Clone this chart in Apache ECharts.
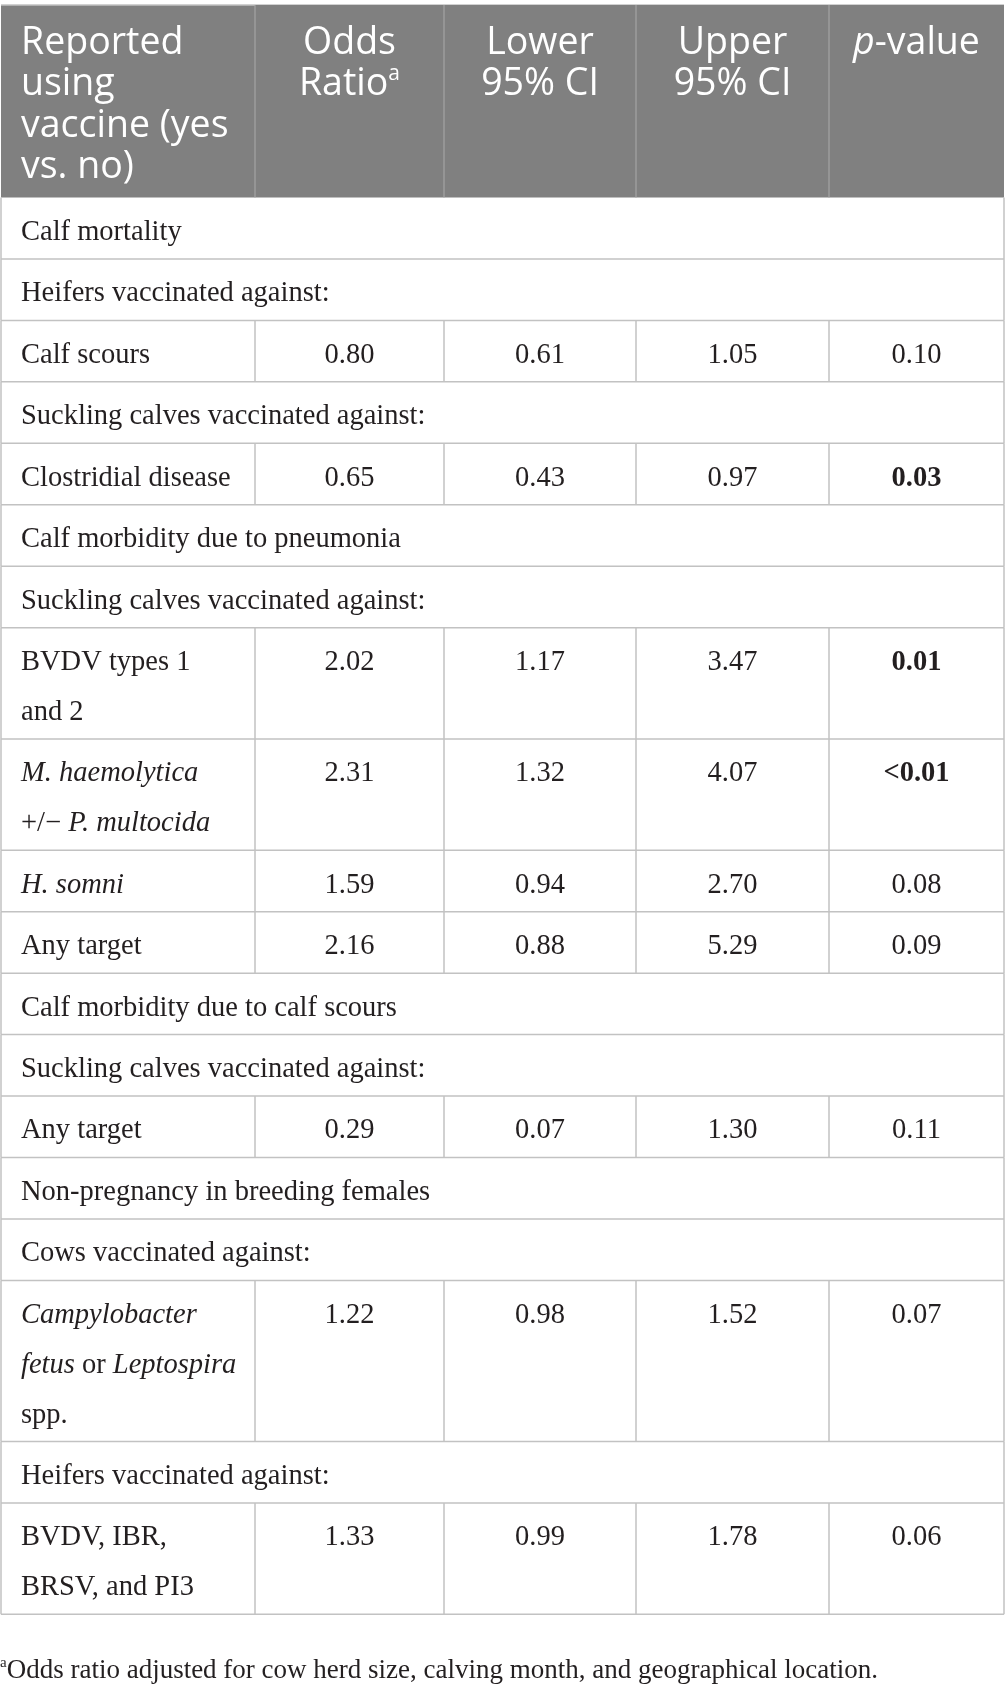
<!DOCTYPE html>
<html><head><meta charset="utf-8">
<script src="https://cdn.jsdelivr.net/npm/echarts@6/dist/echarts.min.js"></script>
<style>html,body{margin:0;padding:0;background:#fff}#c{width:1005px;height:1691px}</style>
</head><body><div id="c"></div>
<script>
// ---------------- data ----------------
const headerLabels = [
  "Reported\nusing\nvaccine (yes\nvs. no)",
  "Odds\nRatio{sup|a}",
  "Lower\n95% CI",
  "Upper\n95% CI",
  "{i|p}-value"
];
const rowLabels = [
  "Calf mortality",
  "Heifers vaccinated against:",
  "Calf scours",
  "Suckling calves vaccinated against:",
  "Clostridial disease",
  "Calf morbidity due to pneumonia",
  "Suckling calves vaccinated against:",
  "BVDV types 1\nand 2",
  "{i|M. haemolytica}\n+/\u2212 {i|P. multocida}",
  "{i|H. somni}",
  "Any target",
  "Calf morbidity due to calf scours",
  "Suckling calves vaccinated against:",
  "Any target",
  "Non-pregnancy in breeding females",
  "Cows vaccinated against:",
  "{i|Campylobacter}\n{i|fetus} or {i|Leptospira}\nspp.",
  "Heifers vaccinated against:",
  "BVDV, IBR,\nBRSV, and PI3"
];
const oddsRatio = [null,null,0.80,null,0.65,null,null,2.02,2.31,1.59,2.16,null,null,0.29,null,null,1.22,null,1.33];
const lowerCI   = [null,null,0.61,null,0.43,null,null,1.17,1.32,0.94,0.88,null,null,0.07,null,null,0.98,null,0.99];
const upperCI   = [null,null,1.05,null,0.97,null,null,3.47,4.07,2.70,5.29,null,null,1.30,null,null,1.52,null,1.78];
const pValue    = [null,null,"0.10",null,"0.03",null,null,"0.01","<0.01","0.08","0.09",null,null,"0.11",null,null,"0.07",null,"0.06"];
const significant = [false,false,false,false,true,false,false,true,true,false,false,false,false,false,false,false,false,false,false];
const footnoteMark = "a";
const footnoteText = "Odds ratio adjusted for cow herd size, calving month, and geographical location.";

// ---------------- layout ----------------
const W = 1005, H = 1691;
const colEdges = [1, 255, 444, 636, 829, 1004];
const headerTop = 5, headerBottom = 197.5;
const rowPad = 11.6, lineH = 49.85, padTop = 10;
const BORDER = '#c2c2c2', TEXT = '#231f20', HEAD_BG = '#808080', HEAD_SEP = '#a3a3a3';
const serif = '"Liberation Serif", "Times New Roman", serif';
const sans = '"Open Sans", "Noto Sans", sans-serif';
const bodySize = 28.5;
const headSize = 37.5;

const lineCounts = rowLabels.map(s => s.split('\n').length);
const rowHeight = lineCounts.map(n => rowPad + lineH * n);
const rowTop = [];
rowHeight.reduce((acc, h, i) => { rowTop[i] = acc; return acc + h; }, headerBottom);

const fmt = v => v.toFixed(2);

function lineEl(x1, y1, x2, y2, color, w) {
  return { type: 'line', shape: { x1, y1, x2, y2 }, style: { stroke: color, lineWidth: w } };
}

function renderHeader(params, api) {
  const k = api.value(0);
  const xa = api.coord([colEdges[k], 0])[0];
  const xb = api.coord([colEdges[k + 1], 0])[0];
  const ya = api.coord([0, headerTop])[1];
  const yb = api.coord([0, headerBottom])[1];
  const children = [
    { type: 'rect', shape: { x: xa, y: ya, width: xb - xa, height: yb - ya }, style: { fill: HEAD_BG } }
  ];
  if (k > 0) children.push(lineEl(xa, ya, xa, yb, HEAD_SEP, 1.2));
  if (k === 0) children.push(lineEl(api.coord([colEdges[0],0])[0], ya, api.coord([colEdges[5],0])[0], ya, BORDER, 1.5));
  children.push({
    type: 'text',
    style: {
      text: headerLabels[k],
      x: k === 0 ? xa + 20 : (xa + xb) / 2,
      y: ya + 17.5,
      align: k === 0 ? 'left' : 'center',
      verticalAlign: 'top',
      fontSize: headSize, fontFamily: sans, fill: '#ffffff', lineHeight: 41.5,
      rich: {
        i: { fontStyle: 'italic', fontSize: headSize, fontFamily: sans, fill: '#ffffff', lineHeight: 41.5 },
        sup: { fontSize: 21, fontFamily: sans, fill: '#ffffff', lineHeight: 27, verticalAlign: 'top' }
      }
    }
  });
  return { type: 'group', children };
}

function renderBody(params, api) {
  const i = api.value(0);
  const y0 = api.coord([0, rowTop[i]])[1];
  const y1 = api.coord([0, rowTop[i] + rowHeight[i]])[1];
  const xs = colEdges.map(e => api.coord([e, 0])[0]);
  const children = [];
  children.push(lineEl(xs[0], y1, xs[5], y1, BORDER, 1.5));
  children.push(lineEl(xs[0], y0, xs[0], y1, BORDER, 1.5));
  children.push(lineEl(xs[5], y0, xs[5], y1, BORDER, 1.5));
  const isData = oddsRatio[i] != null;
  const base = { fontSize: bodySize, fontFamily: serif, fill: TEXT, lineHeight: lineH };
  children.push({
    type: 'text',
    style: Object.assign({
      text: rowLabels[i], x: xs[0] + 20, y: y0 + padTop, align: 'left', verticalAlign: 'top',
      rich: { i: Object.assign({ fontStyle: 'italic' }, base) }
    }, base)
  });
  if (isData) {
    for (let k = 1; k <= 4; k++) children.push(lineEl(xs[k], y0, xs[k], y1, BORDER, 1.5));
    const vals = [fmt(oddsRatio[i]), fmt(lowerCI[i]), fmt(upperCI[i]), pValue[i]];
    vals.forEach((v, k) => {
      children.push({
        type: 'text',
        style: Object.assign({}, base, {
          text: v, x: (xs[k + 1] + xs[k + 2]) / 2, y: y0 + padTop, align: 'center', verticalAlign: 'top',
          fontWeight: (k === 3 && significant[i]) ? 'bold' : 'normal'
        })
      });
    });
  }
  return { type: 'group', children };
}

const chart = echarts.init(document.getElementById('c'), null, { renderer: 'canvas' });
chart.setOption({
  animation: false,
  backgroundColor: '#ffffff',
  title: {
    text: '{sup|' + footnoteMark + '}{t|' + footnoteText + '}',
    left: 0, top: 1656, padding: 0,
    textStyle: {
      fontWeight: 'normal',
      rich: {
        sup: { fontSize: 15, fontWeight: 'normal', fontFamily: serif, color: TEXT, lineHeight: 30, verticalAlign: 'top' },
        t: { fontSize: 27, fontWeight: 'normal', fontFamily: serif, color: TEXT, lineHeight: 30 }
      }
    }
  },
  grid: { left: 0, right: 0, top: 0, bottom: 0 },
  xAxis: { type: 'value', min: 0, max: W, show: false },
  yAxis: { type: 'value', min: 0, max: H, inverse: true, show: false },
  series: [
    {
      type: 'custom', name: 'header', renderItem: renderHeader,
      data: headerLabels.map((_, k) => [k, headerTop]), silent: true
    },
    {
      type: 'custom', name: 'rows', renderItem: renderBody,
      data: rowLabels.map((_, i) => [i, rowTop[i]]), silent: true
    }
  ]
});
</script>
</body></html>
